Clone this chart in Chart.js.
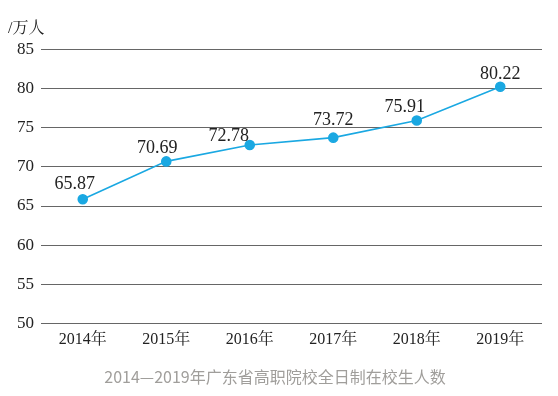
<!DOCTYPE html>
<html lang="zh">
<head>
<meta charset="UTF-8">
<title>2014—2019年广东省高职院校全日制在校生人数</title>
<script src="https://cdn.jsdelivr.net/npm/chart.js"></script>
<style>
  html, body { margin: 0; padding: 0; background: #fff; }
  .wrap { width: 558px; height: 396px; }
</style>
</head>
<body>
<div class="wrap"><canvas id="myChart"></canvas></div>
<script>
const years = ["2014年", "2015年", "2016年", "2017年", "2018年", "2019年"];
const students = [65.87, 70.69, 72.78, 73.72, 75.91, 80.22];
const yMin = 50, yMax = 85, yStep = 5;
const unitLabel = "/万人";
const caption = "2014—2019年广东省高职院校全日制在校生人数";

// small nudges for the value labels, like in the original figure
const labelNudgeX = [-8, -9, -21, 0, -12, 0];
const labelNudgeY = [10, 8, 4, 13, 8, 8];

const serif = "'Liberation Serif', 'Noto Serif CJK SC', 'Noto Sans CJK SC', serif";

// value labels above each point
const valueLabels = {
    id: "valueLabels",
    afterDatasetsDraw(chart) {
        const ctx = chart.ctx;
        const meta = chart.getDatasetMeta(0);
        ctx.save();
        ctx.font = "18px " + serif;
        ctx.fillStyle = "#222";
        ctx.textAlign = "center";
        ctx.textBaseline = "alphabetic";
        meta.data.forEach((pt, i) => {
            ctx.fillText(students[i].toFixed(2), pt.x + labelNudgeX[i], pt.y - labelNudgeY[i]);
        });
        ctx.restore();
    }
};

new Chart(document.getElementById("myChart"), {
    type: "line",
    data: {
        labels: years,
        datasets: [{
            data: students,
            borderColor: "#1aa8e2",
            backgroundColor: "#1aa8e2",
            borderWidth: 1.6,
            pointRadius: 4.5,
            pointHoverRadius: 4.5,
            fill: false,
            tension: 0
        }]
    },
    options: {
        responsive: true,
        maintainAspectRatio: false,
        animation: false,
        layout: { padding: { left: 8, right: 16, top: 0, bottom: 0 } },
        plugins: {
            legend: { display: false },
            tooltip: { enabled: false },
            title: {
                display: true,
                text: unitLabel,
                align: "start",
                color: "#222",
                font: { family: serif, size: 16, weight: "normal" },
                padding: { top: 19, bottom: 11 }
            },
            subtitle: {
                display: true,
                text: caption,
                position: "bottom",
                color: "#a09e9b",
                font: { family: "'Noto Sans CJK SC', 'Noto Sans', sans-serif", size: 16 },
                padding: { top: 11, bottom: 9 }
            }
        },
        scales: {
            x: {
                offset: true,
                grid: { display: false, drawTicks: false },
                border: { display: false },
                ticks: { color: "#222", font: { family: serif, size: 16 }, padding: 7 }
            },
            y: {
                min: yMin,
                max: yMax,
                afterFit(scale) { scale.width = 33; },
                grid: { color: "#666", lineWidth: 1, drawTicks: false },
                border: { display: false },
                ticks: { stepSize: yStep, color: "#222", font: { family: serif, size: 17 }, padding: 7 }
            }
        }
    },
    plugins: [valueLabels]
});
</script>
</body>
</html>
